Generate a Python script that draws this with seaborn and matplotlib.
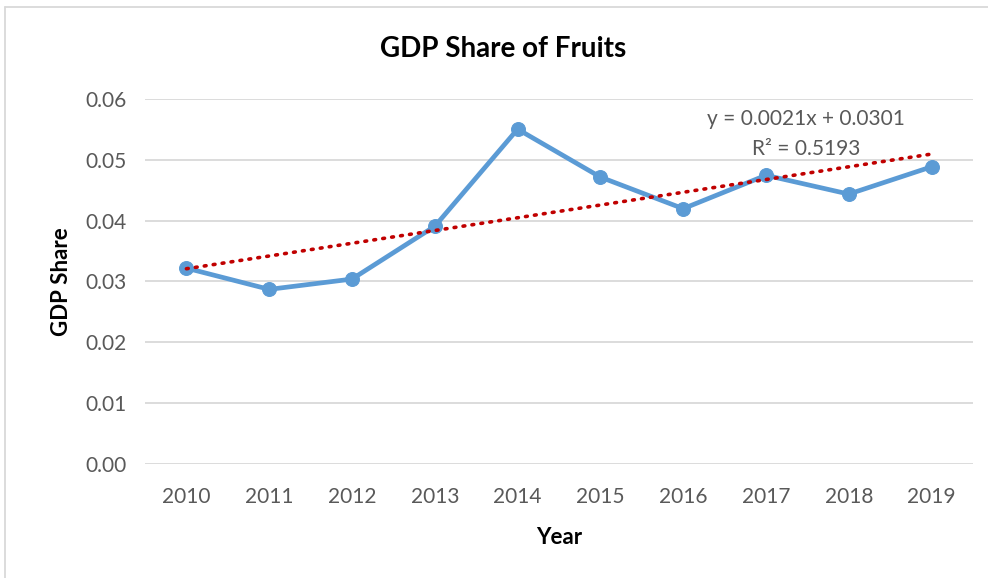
import numpy as np
import pandas as pd
import matplotlib
matplotlib.use('Agg')
import matplotlib.pyplot as plt
from matplotlib.lines import Line2D
import seaborn as sns

###############################################################################
# Data
###############################################################################
years = [2010, 2011, 2012, 2013, 2014, 2015, 2016, 2017, 2018, 2019]
share = [0.0322, 0.0287, 0.0304, 0.0391, 0.0551, 0.0472, 0.0420, 0.0475, 0.0444, 0.0489]
trendText = ['y = 0.0021x + 0.0301', 'R² = 0.5193']
yTicks = [0.00, 0.01, 0.02, 0.03, 0.04, 0.05, 0.06]

df = pd.DataFrame({'Year': years, 'Share': share})
###############################################################################
# Style
###############################################################################
sns.set_theme(style='white')
plt.rcParams['font.family'] = ['Lato', 'DejaVu Sans']
(LINE, TREND, GRID, TXT) = ('#5B9BD5', '#C00000', '#D9D9D9', '#595959')
###############################################################################
# Plot
###############################################################################
fig = plt.figure(figsize=(9.88, 5.78), dpi=100)
ax = fig.add_axes([0.1468, 0.198, 0.838, 0.630])
for yv in yTicks:
    ax.axhline(yv, color=GRID, lw=1.3, zorder=0)
sns.lineplot(
    data=df, x='Year', y='Share', ax=ax, color=LINE,
    lw=3.4, marker='o', markersize=10, markeredgecolor=LINE, zorder=3
)
sns.regplot(
    data=df, x='Year', y='Share', ax=ax, scatter=False, ci=None, truncate=True,
    line_kws=dict(color=TREND, lw=2.6, ls=(0, (0.5, 2.0)), dash_capstyle='round', zorder=4)
)
ax.set_xlim(2009.5, 2019.5)
ax.set_ylim(0, 0.06)
ax.set_xticks(years)
ax.set_yticks(yTicks)
ax.set_yticklabels(['{:.2f}'.format(v) for v in yTicks])
ax.tick_params(axis='both', length=0, labelsize=15, labelcolor=TXT)
ax.tick_params(axis='x', pad=17)
ax.tick_params(axis='y', pad=13)
for s in ax.spines.values():
    s.set_visible(False)
ax.set_xlabel('Year', fontsize=16, fontweight='bold', color='black', labelpad=14)
ax.set_ylabel('GDP Share', fontsize=16, fontweight='bold', color='black', labelpad=10)
fig.text(0.509, 0.916, 'GDP Share of Fruits', ha='center', va='center',
         fontsize=20, fontweight='bold', color='black')
ax.text(0.8155, 0.794, trendText[0], transform=fig.transFigure, ha='center',
        va='center', fontsize=15, color=TXT)
ax.text(0.8155, 0.742, trendText[1], transform=fig.transFigure, ha='center',
        va='center', fontsize=15, color=TXT)
# chart frame -----------------------------------------------------------------
fig.add_artist(Line2D([0.005, 0.005], [0.0, 0.988], color='#D9D9D9', lw=1.3))
fig.add_artist(Line2D([0.005, 1.0], [0.988, 0.988], color='#D9D9D9', lw=1.3))
plt.savefig('out.png', dpi=100, facecolor='white')
plt.close('all')
